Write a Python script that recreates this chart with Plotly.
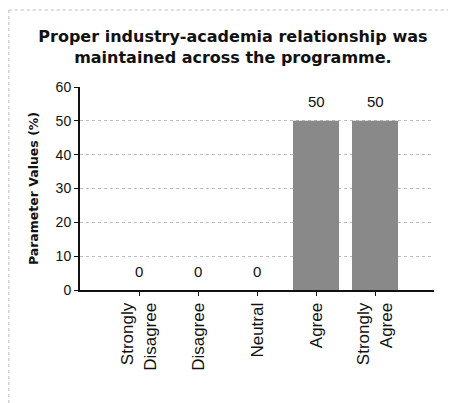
import plotly.graph_objects as go

categories = ["Strongly<br>Disagree", "Disagree", "Neutral", "Agree", "Strongly<br>Agree"]
values = [0, 0, 0, 50, 50]
value_labels = ["0", "0", "0", "50", "50"]
y_ticks = [0, 10, 20, 30, 40, 50, 60]

x_pos = list(range(len(categories)))

fig = go.Figure()
fig.add_trace(go.Bar(
    x=x_pos, y=values, width=0.78,
    marker=dict(color="#898989", line=dict(width=0)),
    hoverinfo="skip",
))

for xi, v, lab in zip(x_pos, values, value_labels):
    fig.add_annotation(x=xi, y=v, text=lab, showarrow=False, yshift=19,
                       font=dict(family="Liberation Sans, Arial", size=15, color="#111"))

# page is offset by the default 8px body margin
W, H = 448, 395
L, R, T, B = 72, 22, 79, 113
pw, ph = W - L - R, H - T - B

def px_x(p):
    return (p - L) / pw

def px_y(p):
    return (H - B - p) / ph

fig.add_shape(type="line", xref="paper", yref="paper",
              x0=px_x(0.75), x1=px_x(444), y0=px_y(2), y1=px_y(2),
              line=dict(color="#d2d2d2", width=1.5, dash="dot"))
fig.add_shape(type="line", xref="paper", yref="paper",
              x0=px_x(0.75), x1=px_x(0.75), y0=px_y(2), y1=px_y(395),
              line=dict(color="#d2d2d2", width=1.5, dash="dot"))

fig.update_layout(
    width=W, height=H,
    margin=dict(l=L, r=R, t=T, b=B, autoexpand=False),
    paper_bgcolor="white", plot_bgcolor="white",
    showlegend=False,
    title=dict(text="<b>Proper industry-academia relationship was<br>maintained across the programme.</b>",
               x=0.502, xref="container", xanchor="center", y=1 - 34 / H, yanchor="top",
               font=dict(family="DejaVu Sans", size=16, color="#111")),
    xaxis=dict(
        range=[-1, 5], tickmode="array", tickvals=x_pos, ticktext=categories,
        tickangle=-90, ticks="outside", ticklen=4, tickcolor="#111", tickwidth=1,
        showline=True, linecolor="#111", linewidth=2, showgrid=False, zeroline=False,
        automargin=False,
        tickfont=dict(family="Liberation Sans, Arial", size=17, color="#111"),
    ),
    yaxis=dict(
        range=[0, 60], tickmode="array", tickvals=y_ticks,
        ticks="outside", ticklen=4, tickcolor="#111", tickwidth=1,
        showline=True, linecolor="#111", linewidth=2,
        showgrid=True, gridcolor="#bdbdbd", griddash="dot", gridwidth=1, zeroline=False,
        automargin=False,
        tickfont=dict(family="Liberation Sans, Arial", size=14, color="#111"),
        title=dict(text="<b>Parameter Values (%)</b>", standoff=14,
                   font=dict(family="DejaVu Sans", size=12.5, color="#111")),
    ),
)

fig.write_html("out.html")
